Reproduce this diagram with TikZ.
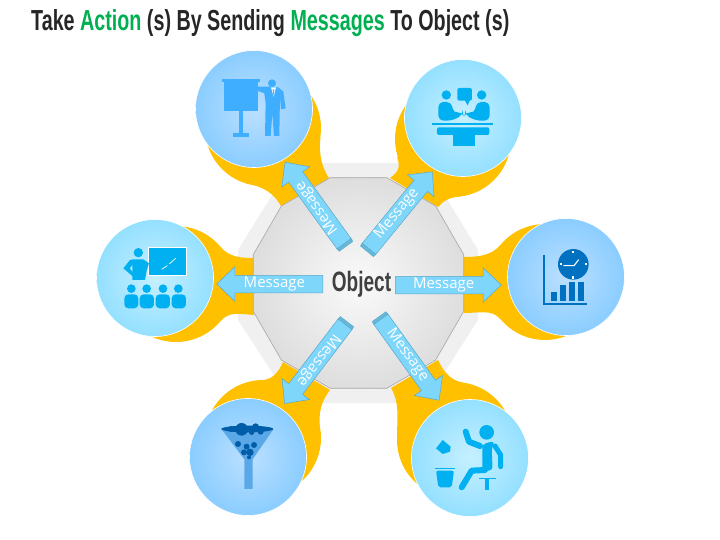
\documentclass[tikz,border=0pt]{standalone}
\usepackage{fontspec}
\usetikzlibrary{shapes.geometric, shapes.arrows}
\setmainfont{Open Sans}
\newfontfamily\headfont[FakeStretch=0.68]{Liberation Sans Bold}
\definecolor{armorange}{HTML}{FFC000}
\definecolor{titlegreen}{HTML}{00B050}
\definecolor{titledark}{HTML}{262626}
\definecolor{msgfill}{HTML}{7FD6FB}
\definecolor{msgedge}{HTML}{5BA9C8}
\definecolor{iconcyan}{HTML}{00B0F0}
\definecolor{iconsky}{HTML}{3FAEFF}
\definecolor{icondeep}{HTML}{0070C0}
\definecolor{funnelmid}{HTML}{5BA8E8}
\definecolor{funneldark}{HTML}{005DA8}
\definecolor{skyinner}{HTML}{BCE0FF}
\definecolor{skyouter}{HTML}{8ACDFF}
\definecolor{cyaninner}{HTML}{C6F0FF}
\definecolor{cyanouter}{HTML}{94E0FF}
\tikzset{
  hubshape/.style={regular polygon, regular polygon sides=12, minimum size=218pt, inner sep=0pt,
    draw=black!35, line width=0.6pt, shade, inner color=white!98!black, outer color=black!13},
  actcircle/.style={circle, minimum size=117pt, inner sep=0pt, draw=white, line width=0.6pt, shade},
  skyball/.style={actcircle, inner color=skyinner, outer color=skyouter},
  cyanball/.style={actcircle, inner color=cyaninner, outer color=cyanouter},
  msgarrow/.style={single arrow, single arrow head extend=8.5pt, single arrow tip angle=87, inner sep=0pt,
    text height=11.5pt, text depth=5.5pt, fill=msgfill, draw=msgedge, line width=0.5pt, text=white, font=\fontsize{15}{15}\selectfont},
  msgstripe/.style={rectangle, minimum width=3.5pt, minimum height=17pt, inner sep=0pt, fill=msgedge!70!msgfill, draw=msgedge, line width=0.3pt},
  iconzoom/.style 2 args={x=0.3333pt, y=-0.3333pt, shift={(#1pt,-#2pt)}}
}
\begin{document}
\begin{tikzpicture}[x=1pt, y=-1pt]
\useasboundingbox (0,0) rectangle (720,540);

\node[anchor=west, inner sep=0pt, text=titledark, font=\headfont\fontsize{29}{29}\selectfont] (title) at (31,23)
  {Take \textcolor{titlegreen}{Action} (s) By Sending \textcolor{titlegreen}{Messages} To Object (s)};

\fill[black!6] (292,163) -- (425,163) -- (478,250) -- (478,320) -- (425,403) -- (292,403) -- (238,320) -- (238,250) -- cycle;

\foreach \cx/\cy in {263/128, 453/139, 176/284, 545/282, 263/438, 455/440}
  \fill[armorange] (\cx,\cy) circle (58);
\fill[armorange] (320.5,137) .. controls (319,150) and (320,165) .. (329,178) -- (281,206) .. controls (275,196) and (268,189) .. (253,185) -- cycle;
\fill[armorange] (397,157) .. controls (401,168) and (398,172) .. (390,178) -- (438,207) .. controls (443,201) and (450,197) .. (460,196.5) -- cycle;
\fill[armorange] (220.4,246.7) .. controls (229,257) and (240,258) .. (254,258) -- (254,315) .. controls (240,314) and (229,311) .. (220.4,321.3) -- cycle;
\fill[armorange] (500.6,244.7) .. controls (492,255) and (480,257) .. (464,257) -- (464,313) .. controls (480,313) and (492,309) .. (500.6,319.3) -- cycle;
\fill[armorange] (260,380) .. controls (270,381) and (278,374) .. (283,362) -- (330,390) .. controls (322,400) and (318,412) .. (320,428) -- cycle;
\fill[armorange] (463,382.5) .. controls (452,381) and (444,373) .. (438,360) -- (391,388) .. controls (400,403) and (397,420) .. (397,437) -- cycle;

\node[hubshape] (hub) at (358.5,283) {};

\node[skyball] (present) at (254,109) {};
\node[cyanball] (meeting) at (463,118) {};
\node[cyanball] (teacher) at (155,278) {};
\node[skyball] (chart) at (566,277) {};
\node[skyball] (funnel) at (248,457) {};
\node[cyanball] (sitting) at (470,458) {};

% presenter at a board
\begin{scope}[iconzoom={170}{30}, fill=iconsky]
\fill (155,147) rectangle (270,155);
\fill (162,155) rectangle (265,243);
\fill (208,243) rectangle (219,310);
\fill (189,310) rectangle (238,322);
\fill (306,160) circle (12);
\fill (262,170) -- (295,170) -- (325,172) -- (340,185) -- (347,235) -- (333,238) -- (330,200) -- (328,318) -- (312,318) -- (307,250) -- (302,318) -- (285,318) -- (287,220) -- (283,190) -- (262,182) -- cycle;
\fill[white] (303,172) -- (318,172) -- (311,200) -- cycle;
\fill[iconsky] (308,178) -- (313,178) -- (311,198) -- cycle;
\end{scope}

% two people at a table
\begin{scope}[iconzoom={370}{30}, fill=iconcyan]
\foreach \hx in {229, 335}
  \fill (\hx,195) circle (14);
\fill[rounded corners=5pt] (205,272) -- (205,216) -- (245,216) -- (250,250) -- (278,245) -- (280,255) -- (245,272) -- cycle;
\fill[rounded corners=5pt] (359,272) -- (359,216) -- (319,216) -- (314,250) -- (286,245) -- (284,255) -- (319,272) -- cycle;
\fill[rounded corners=2pt] (262,174) rectangle (306,212);
\fill (284,210) -- (300,210) -- (293,226) -- cycle;
\fill (186,280) rectangle (369,285);
\fill[rounded corners=2pt] (201,292) rectangle (358,315);
\fill (249,312) rectangle (316,348);
\end{scope}

% teacher and class
\begin{scope}[iconzoom={80}{200}, fill=iconcyan]
\fill (206,143) rectangle (318,226);
\draw[white, line width=0.8pt] (206,143) rectangle (318,226);
\draw[white, line width=0.7pt] (245,208) -- (262,197) (268,192) -- (287,175);
\fill (175,158) circle (14);
\fill (160,178) -- (190,178) -- (207,190) -- (200,212) -- (195,240) -- (157,240) -- (157,228) -- (130,205) -- (150,180) -- cycle;
\fill[cyaninner] (150,205) -- (157,196) -- (157,215) -- cycle;
\foreach \hx/\bx/\ex in {154/133/175, 200/179/222, 249/227/270, 295/275/318} {
  \fill (\hx,266) circle (13);
  \fill[rounded corners=4pt] (\bx,325) -- (\bx,283) -- (\ex,283) -- (\ex,325) -- cycle;
}
\end{scope}

% clock over bar chart
\begin{scope}[iconzoom={450}{200}, fill=icondeep]
\fill (280,165) rectangle (285,315);
\fill (280,310) rectangle (412,315);
\foreach \bx/\by in {303/276, 330/255, 357/245, 384/245}
  \fill (\bx,\by) rectangle (\bx+18,303);
\fill (370,193) circle (46);
\fill[white] (367,152) rectangle (373,159);
\fill[white] (367,229) rectangle (373,236);
\fill[white] (329,190) rectangle (335,196);
\fill[white] (406,190) rectangle (412,196);
\draw[white, line width=1.1pt, line join=round] (340,197) -- (372,197) -- (386,179);
\end{scope}

% funnel
\begin{scope}[iconzoom={170}{340}]
\fill[funnelmid] (155,268) -- (310,268) -- (248,358) -- (248,447) -- (223,447) -- (223,358) -- cycle;
\fill[funneldark] (232,267) ellipse (78 and 10);
\foreach \bx/\by/\br in {215/268/19, 257/260/10, 272/275/9, 183/267/9, 245/277/8, 204/312/9, 230/320/9, 252/315/9, 222/337/9, 240/337/11, 237/352/6}
  \fill[funneldark] (\bx,\by) circle (\br);
\end{scope}

% seated person throwing paper
\begin{scope}[iconzoom={370}{340}, fill=iconcyan]
\fill (350,277) circle (22);
\draw[iconcyan, line width=6pt, line cap=round, line join=round] (287,275) -- (297,305) -- (330,318);
\fill[rounded corners=4pt] (337,312) -- (375,303) -- (365,325) -- (368,392) -- (337,392) -- cycle;
\draw[iconcyan, line width=6pt, line cap=round, line join=round] (345,390) -- (305,392) -- (275,442);
\draw[iconcyan, line width=5pt, line cap=round, line join=round] (375,318) -- (392,345) -- (392,380);
\fill (328,413) rectangle (378,417);
\fill (345,417) rectangle (358,450);
\fill (195,383) rectangle (255,386);
\fill[rounded corners=2pt] (198,392) -- (252,392) -- (245,442) -- (205,442) -- cycle;
\fill (198,325) -- (218,300) -- (242,320) -- (240,335) -- (218,342) -- cycle;
\end{scope}

\node[msgarrow, anchor=tail, minimum height=106pt] (msgright) at (395,285) {Message};
\node[msgarrow, anchor=tail, minimum height=106pt, shape border rotate=180] (msgleft) at (323,284) {Message};
\foreach \name/\tx/\ty/\ang/\len in {msgtl/345/245/125.9/102, msgtr/368/250/50.6/101, msgbl/346/323/232.7/101, msgbr/380/318/-54.3/101} {
  \node[msgarrow, anchor=tail, rotate=\ang, minimum height=\len pt] (\name) at (\tx,\ty) {Message};
  \node[msgstripe, anchor=center, rotate=\ang] (\name end) at (\tx,\ty) {};
}

\node[inner sep=0pt, text=black!75, font=\headfont\fontsize{28}{28}\selectfont] (object) at (361.5,284) {Object};

\end{tikzpicture}
\end{document}
